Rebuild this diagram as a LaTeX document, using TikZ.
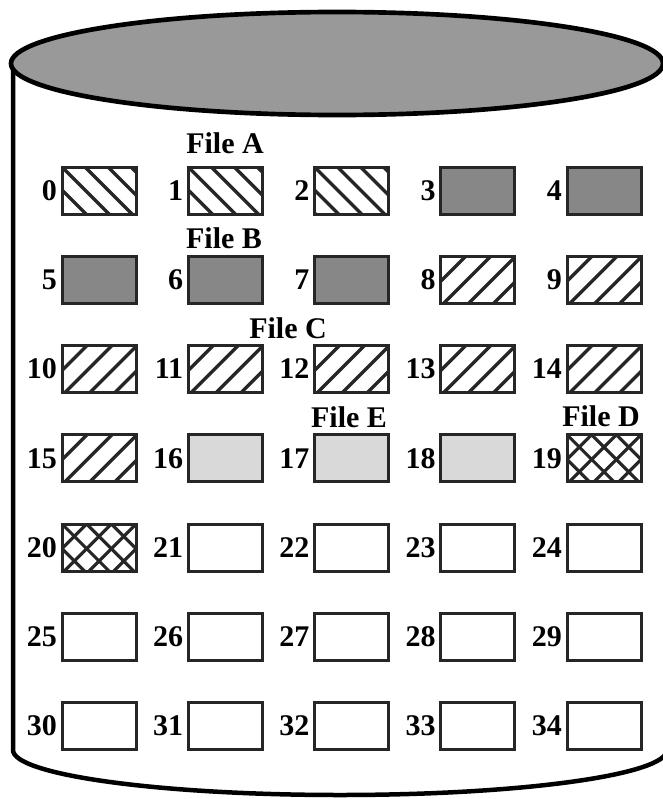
\documentclass[tikz,border=0pt]{standalone}
\usepackage{fontspec}
\setmainfont{Liberation Serif}
\usetikzlibrary{positioning}
\definecolor{diskgray}{gray}{0.6}
\definecolor{usedgray}{gray}{0.53}
\definecolor{blklight}{gray}{0.85}
% #1 = line spacing along the top edge, #2 = +1 for \ lines, -1 for / lines, #3 = line width
\newcommand\hatchlines[3]{%
  \foreach \k in {-4,...,8}
    \draw[line width=#3] ([xshift={\k*#1*0.3mm}]path picture bounding box.north west) -- ++({#2*80},80);
}
\tikzset{
  blk/.style={draw=black!85, line width=0.9mm, minimum width=22.2mm, minimum height=14.1mm, inner sep=0pt},
  blkA/.style={blk, path picture={\hatchlines{23}{1}{1.05mm}}},
  blkB/.style={blk, fill=usedgray},
  blkC/.style={blk, path picture={\hatchlines{25}{-1}{1.05mm}}},
  blkD/.style={blk, path picture={\hatchlines{24.7}{1}{0.95mm}\hatchlines{24.7}{-1}{0.95mm}}},
  blkE/.style={blk, fill=blklight},
  blkF/.style={blk},
  num/.style={anchor=east, inner sep=1mm},
  flabel/.style={anchor=base, inner sep=0pt}
}

\begin{document}
\begin{tikzpicture}[x=0.3mm, y=-0.3mm, font=\fontsize{25.6}{30}\selectfont\bfseries]
  \useasboundingbox (0,0) rectangle (662,799);
  % Disk body
  \draw[line width=1.35mm] (13,64) -- (13,750) arc[start angle=180, end angle=0, x radius=327, y radius=45];
  \draw[line width=1.4mm, fill=diskgray] (337,63.5) ellipse[x radius=326, y radius=51.5];
  % Blocks
  \foreach \s [count=\i from 0] in {A,A,A,B,B, B,B,B,C,C, C,C,C,C,C, C,E,E,E,D, D,F,F,F,F, F,F,F,F,F, F,F,F,F,F} {
    \pgfmathtruncatemacro\col{mod(\i,5)}
    \pgfmathtruncatemacro\row{\i/5}
    \node[blk\s] (b\i) at ({99+126.25*\col},{190.5+89.25*\row}) {};
    \node[num] (n\i) at (b\i.west) {\i};
  }
  % File names
  \node[flabel] (fileA) at (225,153) {File A};
  \node[flabel] (fileB) at (224,248) {File B};
  \node[flabel] (fileC) at (288,338) {File C};
  \node[flabel] (fileE) at (349,427) {File E};
  \node[flabel] (fileD) at (601,426) {File D};
\end{tikzpicture}
\end{document}
